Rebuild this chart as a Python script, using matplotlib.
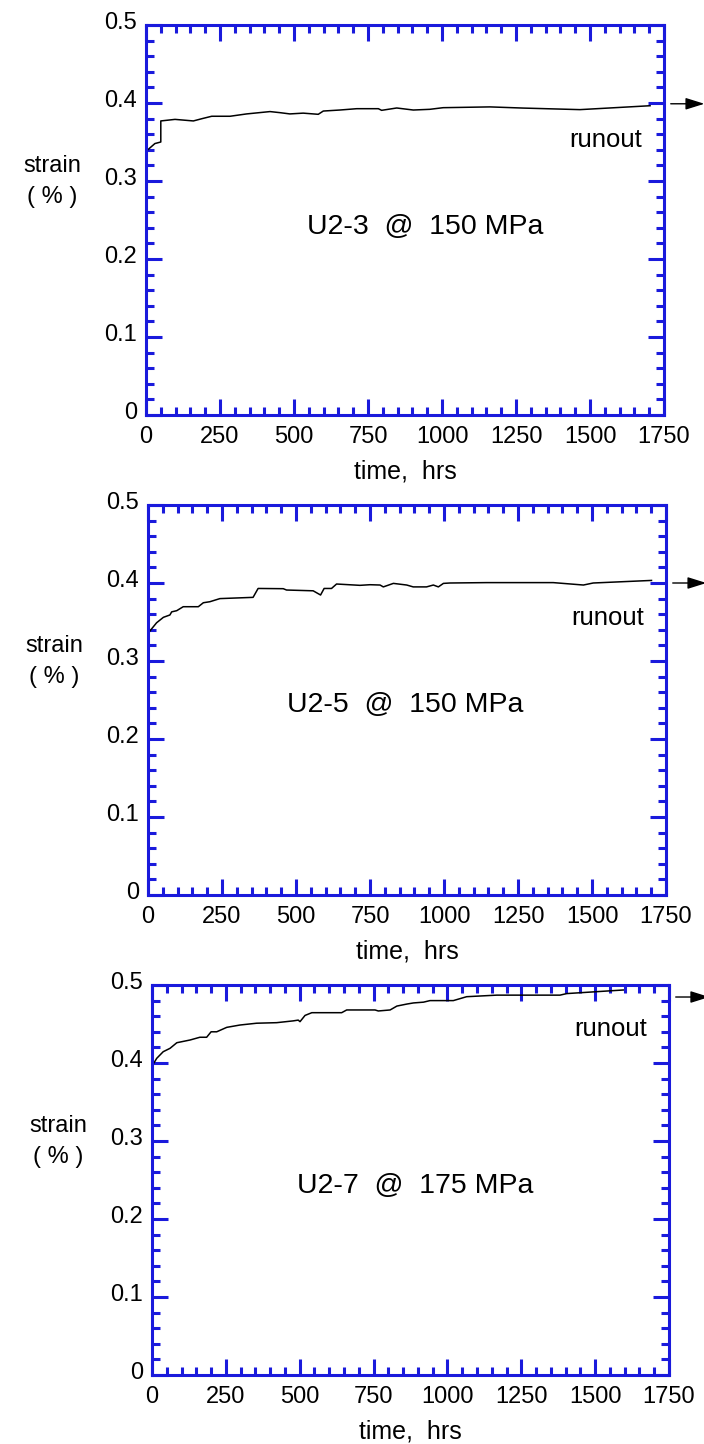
import numpy as np
import matplotlib
matplotlib.use("Agg")
import matplotlib.pyplot as plt
import matplotlib.transforms as mtransforms
from matplotlib.ticker import MultipleLocator, FuncFormatter

plt.rcParams['font.family'] = ['Liberation Sans', 'DejaVu Sans']

# ---- datos ----
t_u23 = [0, 30, 50, 50, 98, 160, 190, 222, 284, 340, 419, 453, 486, 531, 582, 599,
         655, 712, 785, 796, 847, 903, 959, 1004, 1162, 1274, 1466, 1703]
s_u23 = [0.338, 0.348, 0.350, 0.377, 0.379, 0.377, 0.380, 0.383, 0.383, 0.386, 0.389,
         0.3876, 0.386, 0.387, 0.3855, 0.3897, 0.391, 0.3927, 0.3927, 0.3906, 0.3936,
         0.391, 0.3919, 0.394, 0.395, 0.3935, 0.3915, 0.3965]

t_u25 = [0, 9, 29, 52, 74, 80, 97, 119, 170, 187, 209, 243, 355, 372, 457, 468, 558,
         583, 595, 620, 637, 716, 750, 784, 795, 829, 874, 896, 941, 964, 981, 998,
         1020, 1144, 1268, 1369, 1471, 1504, 1701]
s_u25 = [0.335, 0.3397, 0.349, 0.356, 0.359, 0.363, 0.3645, 0.3696, 0.3696, 0.3747,
         0.376, 0.380, 0.3816, 0.393, 0.3927, 0.391, 0.390, 0.3846, 0.393, 0.393,
         0.3987, 0.397, 0.3978, 0.3974, 0.395, 0.3995, 0.3974, 0.395, 0.395, 0.3974,
         0.395, 0.3995, 0.400, 0.4005, 0.4005, 0.4005, 0.3974, 0.400, 0.4033]

t_u27 = [0, 16, 38, 61, 84, 129, 162, 185, 200, 219, 253, 298, 354, 422, 478, 495,
         501, 518, 541, 642, 659, 755, 766, 806, 829, 863, 885, 919, 941, 1020, 1065,
         1167, 1381, 1404, 1595]
s_u27 = [0.396, 0.406, 0.4145, 0.4188, 0.426, 0.4295, 0.433, 0.433, 0.440, 0.440,
         0.4457, 0.4487, 0.451, 0.4517, 0.454, 0.455, 0.453, 0.461, 0.4645, 0.4645,
         0.468, 0.468, 0.4667, 0.468, 0.473, 0.4756, 0.477, 0.478, 0.480, 0.480,
         0.485, 0.487, 0.487, 0.489, 0.4936]

etiquetas = ["U2-3  @  150 MPa", "U2-5  @  150 MPa", "U2-7  @  175 MPa"]
flecha_y = [0.399, 0.400, 0.4846]
runout_y = [0.353, 0.3545, 0.444]
etiqueta_pos = [(943, 0.241), (868, 0.2436), (890, 0.242)]

AZUL = '#1a1adc'

fig = plt.figure(figsize=(7.04, 14.44), dpi=100)
posiciones = [
    [146 / 704, 1 - 415 / 1444, 518 / 704, 390 / 1444],
    [148 / 704, 1 - 895 / 1444, 518 / 704, 390 / 1444],
    [152 / 704, 1 - 1375 / 1444, 517 / 704, 390 / 1444],
]
series = [(t_u23, s_u23), (t_u25, s_u25), (t_u27, s_u27)]

desplazar = mtransforms.ScaledTranslation(0, 3 / 72, fig.dpi_scale_trans)

for i, (pos, (t, s)) in enumerate(zip(posiciones, series)):
    ax = fig.add_axes(pos)
    ax.plot(t, s, color='black', lw=1.1)

    ax.set_xlim(0, 1750)
    ax.set_ylim(0, 0.5)
    ax.xaxis.set_major_locator(MultipleLocator(250))
    ax.xaxis.set_minor_locator(MultipleLocator(50))
    ax.yaxis.set_major_locator(MultipleLocator(0.1))
    ax.yaxis.set_minor_locator(MultipleLocator(0.02))
    ax.yaxis.set_major_formatter(FuncFormatter(lambda v, p: '0' if abs(v) < 1e-9 else f'{v:.1f}'))

    for sp in ax.spines.values():
        sp.set_color(AZUL)
        sp.set_linewidth(2.2)
    ax.tick_params(which='both', direction='in', top=True, right=True,
                   color=AZUL, width=2.2, labelsize=17, labelcolor='black')
    ax.tick_params(which='major', length=11.5)
    ax.tick_params(which='minor', length=6)
    ax.tick_params(axis='y', pad=6.5)
    ax.tick_params(axis='x', pad=8)
    for lab in ax.get_yticklabels():
        lab.set_transform(lab.get_transform() + desplazar)

    ax.set_xlabel("time,  hrs", fontsize=18, labelpad=8)

    # etiqueta del eje y
    trans_y = mtransforms.blended_transform_factory(ax.transAxes, ax.transData)
    ax.text(-0.181, 0.319, "strain", transform=trans_y,
            ha='center', va='center', fontsize=17)
    ax.text(-0.181, 0.2795, "( % )", transform=trans_y,
            ha='center', va='center', fontsize=17)

    # textos internos
    ax.text(etiqueta_pos[i][0], etiqueta_pos[i][1], etiquetas[i],
            ha='center', va='center', fontsize=20.5)
    ax.text(1676, runout_y[i], "runout", ha='right', va='center', fontsize=18.5)

    # flecha de runout
    ax.annotate('', xy=(1.078, flecha_y[i]), xytext=(1.013, flecha_y[i]),
                xycoords=('axes fraction', 'data'), textcoords=('axes fraction', 'data'),
                arrowprops=dict(arrowstyle='-|>,head_length=11.5,head_width=3.6',
                                mutation_scale=1, color='black', lw=1.0,
                                shrinkA=0, shrinkB=0),
                annotation_clip=False)

fig.savefig('out.png', dpi=100)
